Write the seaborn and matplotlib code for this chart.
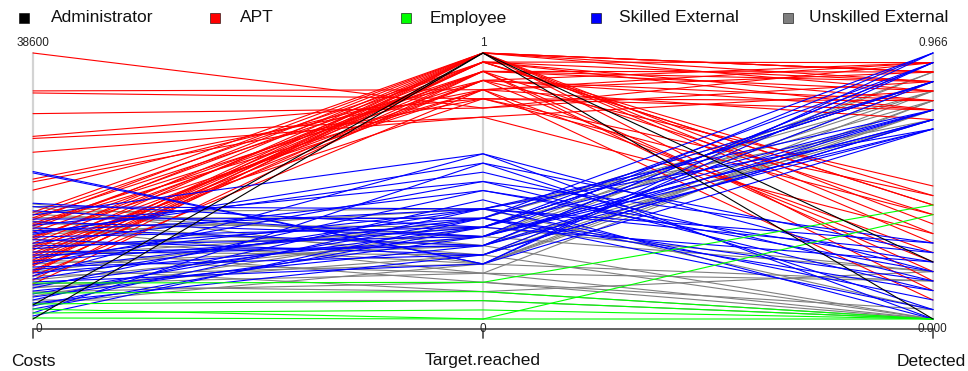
import numpy as np
import pandas as pd
import seaborn as sns
import matplotlib
matplotlib.use("Agg")
import matplotlib.pyplot as plt
from matplotlib.patches import Rectangle
from matplotlib.lines import Line2D
from matplotlib import transforms

# ---- data -------------------------------------------------------------
variables = ["Costs", "Target.reached", "Detected"]
groups = ["Administrator", "APT", "Employee", "Skilled External", "Unskilled External"]

admin_costs = [0, 2030]
admin_target = [1.000, 1.000]
admin_detected = [0.207, 0.000]

apt_costs = [38600, 33100, 32800, 29800, 26500, 26200, 24200, 20300, 19900, 18700,
             15500, 15100, 14700, 14400, 13900, 13500, 13100, 12600, 12000, 11500,
             11000, 10600, 10000, 9580, 9000, 8560, 8130, 7690, 7110, 6680,
             6240, 5660, 5080, 6900, 7900, 9300, 13640, 10400, 8270, 11800]
apt_target = [0.793, 0.862, 0.828, 0.793, 0.828, 0.759, 0.759, 0.862, 0.828, 0.897,
              1.000, 0.966, 0.931, 1.000, 0.897, 0.966, 1.000, 0.931, 0.862, 1.000,
              0.966, 0.897, 1.000, 0.931, 0.966, 1.000, 0.897, 0.966, 0.931, 1.000,
              0.862, 1.000, 0.931, 0.966, 1.000, 0.897, 0.862, 0.828, 0.966, 0.931]
apt_detected = [0.931, 0.897, 0.448, 0.862, 0.379, 0.828, 0.310, 0.931, 0.793, 0.483,
                0.897, 0.414, 0.862, 0.345, 0.759, 0.931, 0.276, 0.828, 0.241, 0.897,
                0.793, 0.207, 0.862, 0.172, 0.759, 0.138, 0.931, 0.414, 0.103, 0.828,
                0.069, 0.897, 0.379, 0.862, 0.310, 0.793, 0.724, 0.759, 0.448, 0.897]

emp_costs = [5220, 3770, 2180, 870, 150, 1450]
emp_target = [0.138, 0.103, 0.069, 0.034, 0.000, 0.000]
emp_detected = [0.414, 0.000, 0.000, 0.000, 0.379, 0.000]

skilled_costs = [21400, 21200, 16800, 16300, 15700, 15100, 14500, 14100, 13600, 13200,
                 12800, 12300, 11900, 11500, 11000, 10600, 10200, 9720, 9290, 8850,
                 8420, 7980, 7550, 7110, 6680, 6240, 5800, 5370, 4930, 4500,
                 4060, 3630, 3190, 2760, 2320, 1890, 1450, 870, 440, 12500]
skilled_target = [0.207, 0.207, 0.345, 0.414, 0.310, 0.621, 0.379, 0.310, 0.517, 0.276,
                  0.414, 0.586, 0.345, 0.241, 0.483, 0.310, 0.379, 0.276, 0.276, 0.414,
                  0.345, 0.517, 0.241, 0.379, 0.310, 0.621, 0.414, 0.207, 0.345, 0.483,
                  0.276, 0.379, 0.310, 0.448, 0.241, 0.414, 0.345, 0.586, 0.379, 0.552]
skilled_detected = [0.931, 0.966, 0.862, 0.276, 0.724, 0.172, 0.966, 0.759, 0.103, 0.931,
                    0.690, 0.241, 0.862, 0.724, 0.207, 0.966, 0.138, 0.759, 0.690, 0.069,
                    0.931, 0.276, 0.862, 0.034, 0.724, 0.000, 0.759, 0.690, 0.207, 0.172,
                    0.931, 0.103, 0.690, 0.000, 0.724, 0.241, 0.759, 0.034, 0.862, 0.138]

unskilled_costs = [16700, 16300, 15200, 14700, 14200, 13800, 13400, 12900, 12200, 11600,
                   10900, 10300, 9720, 9140, 8560, 7980, 7400, 6820, 6240, 5660,
                   5080, 4500, 3920, 3340, 2760, 2180, 15500, 4790]
unskilled_target = [0.276, 0.207, 0.310, 0.379, 0.241, 0.345, 0.172, 0.276, 0.414, 0.207,
                    0.310, 0.138, 0.241, 0.345, 0.172, 0.276, 0.103, 0.379, 0.207, 0.310,
                    0.172, 0.241, 0.138, 0.345, 0.069, 0.207, 0.414, 0.103]
unskilled_detected = [0.000, 0.828, 0.172, 0.862, 0.000, 0.793, 0.138, 0.897, 0.034, 0.759,
                      0.828, 0.000, 0.862, 0.172, 0.793, 0.724, 0.000, 0.828, 0.138, 0.897,
                      0.000, 0.759, 0.034, 0.862, 0.000, 0.793, 0.724, 0.172]

colors = {"Administrator": "#000000", "APT": "#FF0000", "Employee": "#00FF00",
          "Skilled External": "#0000FF", "Unskilled External": "#7F7F7F"}

# ---- assemble a wide table, scale each column to [0, 1] ---------------
parts = [
    ("Unskilled External", unskilled_costs, unskilled_target, unskilled_detected),
    ("APT", apt_costs, apt_target, apt_detected),
    ("Skilled External", skilled_costs, skilled_target, skilled_detected),
    ("Employee", emp_costs, emp_target, emp_detected),
    ("Administrator", admin_costs, admin_target, admin_detected),
]
wide = pd.concat([pd.DataFrame({"group": g, "Costs": c, "Target.reached": t, "Detected": d})
                  for g, c, t, d in parts], ignore_index=True)
wide["id"] = np.arange(len(wide))
col_min = wide[variables].min()
col_max = wide[variables].max()
scaled = wide.copy()
for v in variables:
    scaled[v] = (wide[v] - col_min[v]) / (col_max[v] - col_min[v])

long = scaled.melt(id_vars=["id", "group"], value_vars=variables,
                   var_name="variable", value_name="y")
long["x"] = long["variable"].map({v: i for i, v in enumerate(variables)})
long = long.sort_values(["id", "x"])

# ---- figure -----------------------------------------------------------
sns.set_style("white")
plt.rcParams["font.family"] = ["Liberation Sans", "DejaVu Sans"]

W, H = 968, 371
fig = plt.figure(figsize=(W / 100, H / 100), dpi=100)
ax = fig.add_axes([33 / W, 1 - 319 / H, 900 / W, 266 / H])
ax.set_xlim(0, 2)
ax.set_ylim(0, 1)
ax.axis("off")

# vertical axis rules
for i in range(len(variables)):
    ax.plot([i, i], [0, 1], color="#D3D3D3", lw=1.6, zorder=0, clip_on=False)

draw_order = ["Unskilled External", "APT", "Skilled External", "Employee", "Administrator"]
sns.lineplot(data=long, x="x", y="y", hue="group", units="id", estimator=None,
             hue_order=draw_order, palette=colors, sort=False, legend=False,
             linewidth=0.8, ax=ax)
for ln in ax.lines:
    ln.set_clip_on(False)
ax.set_xlim(0, 2)
ax.set_ylim(0, 1)
ax.axis("off")


def fx(px):
    return px / W


def fy(py):
    return 1 - py / H


# range labels above each axis
top_labels = ["38600", "1", "0.966"]
bottom_labels = ["0", "0", "0.000"]
tick_px = [33, 483, 933]
for i, (lt, lb) in enumerate(zip(top_labels, bottom_labels)):
    fig.text(fx(tick_px[i]), fy(43.5), lt, ha="center", va="center", fontsize=8.5,
             color="#222222")

# bottom axis with ticks
blend = transforms.blended_transform_factory(ax.transData, fig.transFigure)
fig.add_artist(Line2D([0, 2], [fy(329), fy(329)], transform=blend, color="#555555", lw=1.3))
for i in range(3):
    fig.add_artist(Line2D([i, i], [fy(329), fy(338)], transform=blend, color="#555555", lw=1.3))
fig.text(fx(39), fy(329), bottom_labels[0], ha="center", va="center", fontsize=8.5, color="#222222")
fig.text(fx(483), fy(329), bottom_labels[1], ha="center", va="center", fontsize=8.5, color="#222222")
fig.text(fx(932), fy(329), bottom_labels[2], ha="center", va="center", fontsize=8.5, color="#222222")

# variable names
for v, px in zip(variables, [33, 483, 931]):
    fig.text(fx(px), fy(361), v, ha="center", va="center", fontsize=12.5, color="#111111")

# legend row
sq_left = [18.5, 210, 401, 591, 783]
txt_left = [51, 239.5, 430, 619, 809]
for g, sx, tx in zip(groups, sq_left, txt_left):
    fig.add_artist(Rectangle((fx(sx), fy(23)), 10 / W, 10 / H, transform=fig.transFigure,
                             facecolor=colors[g], edgecolor="#000000", lw=0.4))
    fig.text(fx(tx), fy(18), g, ha="left", va="center", fontsize=12.5, color="#111111")

fig.savefig("out.png", dpi=100)
